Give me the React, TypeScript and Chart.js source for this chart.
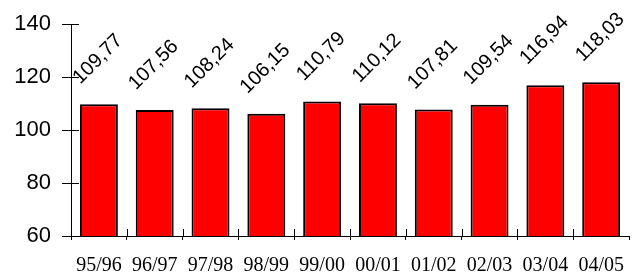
import React, { useEffect, useRef } from "react";
import { Chart, registerables } from "chart.js";

Chart.register(...registerables);

const categories = ["95/96", "96/97", "97/98", "98/99", "99/00", "00/01", "01/02", "02/03", "03/04", "04/05"];
const values = [109.77, 107.56, 108.24, 106.15, 110.79, 110.12, 107.81, 109.54, 116.94, 118.03];
const yTicks = [60, 80, 100, 120, 140];

const fmt = (v: number) => v.toFixed(2).replace(".", ",");

const labelPlugin = {
  id: "rotLabels",
  afterDatasetsDraw(chart: any) {
    const ctx = chart.ctx;
    const meta = chart.getDatasetMeta(0);
    ctx.save();
    ctx.fillStyle = "#000";
    ctx.font = "20px 'Liberation Sans', Arial, sans-serif";
    ctx.textAlign = "center";
    ctx.textBaseline = "middle";
    meta.data.forEach((bar: any, i: number) => {
      ctx.save();
      ctx.translate(bar.x - 1, bar.y - 45);
      ctx.rotate(-Math.PI / 4);
      ctx.fillText(fmt(values[i]), 0, 0);
      ctx.restore();
    });
    ctx.restore();
  },
};

const innerTicks = {
  id: "innerTicks",
  afterDraw(chart: any) {
    const ctx = chart.ctx;
    const xs = chart.scales.x;
    const ys = chart.scales.y;
    const area = chart.chartArea;
    ctx.save();
    ctx.strokeStyle = "#000";
    ctx.lineWidth = 1;
    ctx.beginPath();
    yTicks.forEach((t) => {
      const y = Math.round(ys.getPixelForValue(t)) + 0.5;
      ctx.moveTo(area.left, y);
      ctx.lineTo(area.left + 8, y);
    });
    for (let i = 1; i < categories.length; i++) {
      const x = Math.round((xs.getPixelForValue(i - 1) + xs.getPixelForValue(i)) / 2) + 0.5;
      ctx.moveTo(x, area.bottom);
      ctx.lineTo(x, area.bottom - 7);
    }
    ctx.stroke();
    ctx.restore();
  },
};

export default function App() {
  const ref = useRef<HTMLCanvasElement>(null);
  useEffect(() => {
    document.body.style.margin = "0";
    const chart = new Chart(ref.current!, {
      type: "bar",
      data: {
        labels: categories,
        datasets: [
          {
            data: values,
            backgroundColor: "#FF0000",
            borderColor: "#000000",
            borderWidth: 2,
            borderSkipped: false,
            barPercentage: 0.68,
            categoryPercentage: 1,
          },
        ],
      },
      options: {
        animation: false,
        responsive: false,
        maintainAspectRatio: false,
        layout: { padding: { top: 24, right: 1, left: 0, bottom: 0 } },
        plugins: { legend: { display: false }, tooltip: { enabled: false } },
        scales: {
          x: {
            grid: { display: true, drawOnChartArea: false, drawTicks: true, tickLength: 4, color: "#000", offset: true },
            border: { display: true, color: "#000", width: 1 },
            ticks: {
              color: "#000",
              font: { family: "'Liberation Serif', 'Times New Roman', serif", size: 20 },
              padding: 14,
              maxRotation: 0,
              autoSkip: false,
            },
            afterFit(scale: any) {
              scale.height = 40;
            },
          },
          y: {
            min: 60,
            max: 140,
            afterBuildTicks(scale: any) {
              scale.ticks = yTicks.map((v) => ({ value: v }));
            },
            grid: { display: true, drawOnChartArea: false, drawTicks: true, tickLength: 9, color: "#000" },
            border: { display: true, color: "#000", width: 1 },
            ticks: {
              color: "#000",
              font: { family: "'Liberation Sans', Arial, sans-serif", size: 22 },
              padding: 11,
            },
            afterFit(scale: any) {
              scale.width = 71;
            },
          },
        },
      },
      plugins: [labelPlugin, innerTicks],
    });
    return () => chart.destroy();
  }, []);
  return (
    <div style={{ position: "absolute", left: 0, top: 0, width: 638, height: 276 }}>
      <canvas ref={ref} width={638} height={276} style={{ width: 638, height: 276 }} />
    </div>
  );
}
